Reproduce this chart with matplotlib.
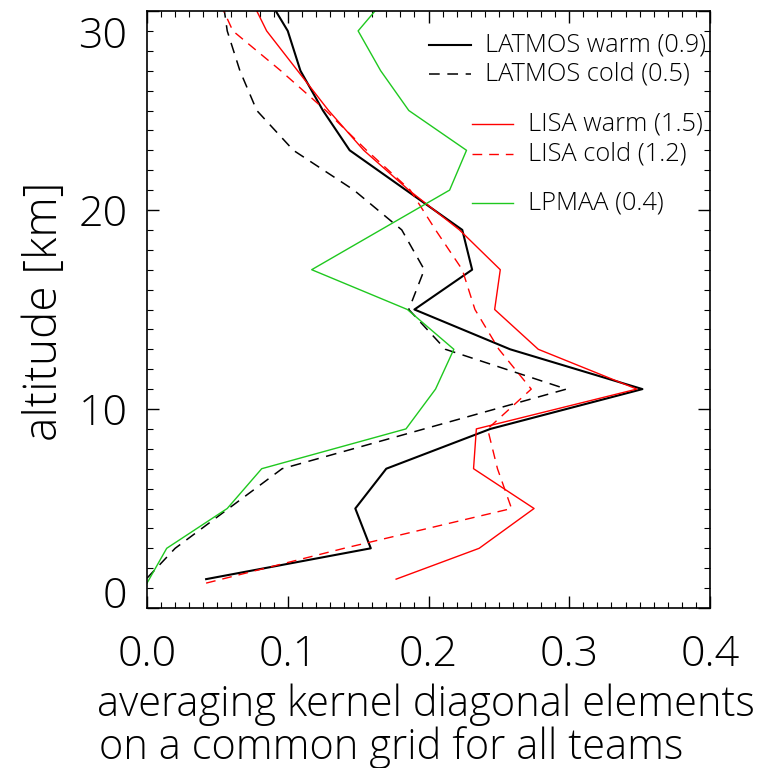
import matplotlib
matplotlib.use("Agg")
import matplotlib.pyplot as plt
from matplotlib.lines import Line2D
from matplotlib.transforms import ScaledTranslation

# altitude grids [km] and averaging kernel diagonals
alt_latmos_warm = [1.45, 3, 5, 7, 9, 11, 13, 15, 17, 19, 21, 23, 25, 27, 29, 31]
ak_latmos_warm = [0.042, 0.159, 0.148, 0.170, 0.244, 0.352, 0.258, 0.190,
                  0.231, 0.224, 0.184, 0.144, 0.125, 0.109, 0.100, 0.083]

alt_latmos_cold = [1.5, 3, 5, 7, 9, 11, 13, 15, 17, 19, 21, 23, 25, 27, 29, 31]
ak_latmos_cold = [0.0, 0.020, 0.058, 0.096, 0.197, 0.298, 0.212, 0.186,
                  0.197, 0.181, 0.147, 0.104, 0.078, 0.066, 0.057, 0.053]

alt_lisa_warm = [1.45, 3, 5, 7, 9, 11, 13, 15, 17, 19, 21, 23, 25, 27, 29, 31]
ak_lisa_warm = [0.177, 0.236, 0.275, 0.232, 0.234, 0.348, 0.278, 0.247,
                0.251, 0.222, 0.186, 0.154, 0.129, 0.107, 0.085, 0.071]

alt_lisa_cold = [1.25, 3, 5, 7, 9, 11, 13, 15, 17, 19, 21, 23, 25, 27, 29, 31]
ak_lisa_cold = [0.042, 0.140, 0.259, 0.249, 0.242, 0.273, 0.250, 0.233,
                0.224, 0.205, 0.187, 0.156, 0.127, 0.095, 0.061, 0.048]

alt_lpmaa = [1.25, 3, 5, 7, 9, 11, 13, 15, 17, 19, 21, 23, 25, 27, 29, 31]
ak_lpmaa = [0.0, 0.014, 0.057, 0.0815, 0.184, 0.205, 0.218, 0.185,
            0.117, 0.166, 0.215, 0.227, 0.186, 0.166, 0.150, 0.174]

labels = ["LATMOS warm (0.9)", "LATMOS cold (0.5)",
          "LISA warm (1.5)", "LISA cold (1.2)", "LPMAA (0.4)"]

GREEN = "#1fc81f"
TXT = "black"
dash = (0, (7, 5))

plt.rcParams['font.family'] = ['Open Sans', 'DejaVu Sans']
plt.rcParams['font.weight'] = 'light'

fig = plt.figure(figsize=(7.62, 7.68), dpi=100)
ax = fig.add_axes([147 / 762, 1 - 608 / 768, 563 / 762, 597 / 768])

ax.plot(ak_latmos_warm, alt_latmos_warm, color="black", lw=1.5)
ax.plot(ak_latmos_cold, alt_latmos_cold, color="black", lw=1.1, linestyle=dash)
ax.plot(ak_lisa_warm, alt_lisa_warm, color="red", lw=1.0)
ax.plot(ak_lisa_cold, alt_lisa_cold, color="red", lw=1.0, linestyle=dash)
ax.plot(ak_lpmaa, alt_lpmaa, color=GREEN, lw=1.0)

ax.set_xlim(0, 0.4)
ax.set_ylim(0, 30)
ax.set_xticks([0.0, 0.1, 0.2, 0.3, 0.4])
ax.set_xticklabels(["0.0", "0.1", "0.2", "0.3", "0.4"])
ax.set_xticks([i / 100 for i in range(41)], minor=True)
ax.set_yticks([0, 10, 20, 30])
ax.set_yticks(range(31), minor=True)

ax.tick_params(which="both", direction="in", top=True, right=True,
               colors="black", labelcolor=TXT, labelsize=31)
ax.tick_params(which="major", length=8.6, width=1.0)
ax.tick_params(which="minor", length=4.3, width=0.8)
ax.tick_params(axis="x", which="major", pad=18)
ax.tick_params(axis="y", which="major", pad=14)
for s in ax.spines.values():
    s.set_linewidth(1.2)

# end labels of the altitude axis sit inside the axis range, as in IDL
ylabs = ax.get_yticklabels()
ylabs[0].set_transform(ylabs[0].get_transform() +
                       ScaledTranslation(0, 0.16, fig.dpi_scale_trans))
ylabs[-1].set_transform(ylabs[-1].get_transform() +
                        ScaledTranslation(0, -0.21, fig.dpi_scale_trans))

# hand-placed legend, grouped like the original
legend_rows = [
    (labels[0], "black", "-", 1.5, 429, 471, 485, 45),
    (labels[1], "black", dash, 1.1, 429, 471, 485, 74),
    (labels[2], "red", "-", 1.0, 472, 513, 528, 124),
    (labels[3], "red", dash, 1.0, 472, 513, 528, 154),
    (labels[4], GREEN, "-", 1.0, 472, 513, 528, 203),
]
for text, col, ls, lw, x0, x1, xt, py in legend_rows:
    yy = (608 - py) / 597
    ax.add_line(Line2D([(x0 - 147) / 563, (x1 - 147) / 563], [yy, yy],
                       transform=ax.transAxes, color=col, linestyle=ls, lw=lw))
    ax.text((xt - 147) / 563, yy, text, transform=ax.transAxes,
            fontsize=18.3, color=TXT, va="center", ha="left")

fig.text(45 / 762, 1 - 311 / 768, "altitude [km]", rotation=90,
         ha="center", va="center", fontsize=33, color=TXT)
fig.text(97 / 762, 1 - 716 / 768, "averaging kernel diagonal elements",
         ha="left", va="baseline", fontsize=30, color=TXT)
fig.text(99 / 762, 1 - 759 / 768, "on a common grid for all teams",
         ha="left", va="baseline", fontsize=30, color=TXT)

fig.savefig("out.png", dpi=100)
